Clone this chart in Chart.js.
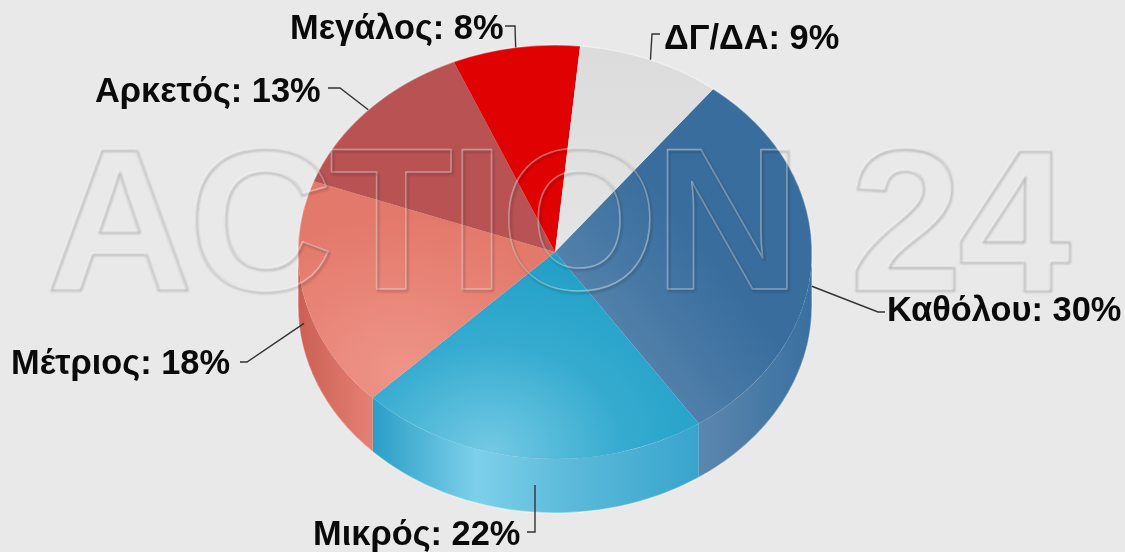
<!DOCTYPE html>
<html lang="el">
<head>
<meta charset="utf-8">
<title>Pie</title>
<script src="https://cdn.jsdelivr.net/npm/chart.js@4"></script>
<style>
  html, body { margin: 0; padding: 0; background: #e9e9e9; }
  canvas { display: block; filter: blur(0.6px); }
</style>
</head>
<body>
<canvas id="pie" width="1125" height="552"></canvas>
<script>
const categories = ['Καθόλου', 'Μικρός', 'Μέτριος', 'Αρκετός', 'Μεγάλος', 'ΔΓ/ΔΑ'];
const values = [30, 22, 18, 13, 8, 9];
const watermark = 'ACTION 24';

// pie look
const centerX = 555, centerY = 252, radius = 257;
const squash = 207 / 257;
const depth = 54;
const startAngle = 38;

// label: x, baseline y, then the elbow of the leader line
const labelPos = [
    { x: 887, y: 321, ex: 878, ey: 312, sx: 885 },
    { x: 313, y: 545, ex: 535, ey: 532, sx: 527, straight: true },
    { x: 11, y: 374, ex: 247, ey: 362, sx: 240 },
    { x: 95, y: 102, ex: 340, ey: 88, sx: 328 },
    { x: 290, y: 39, ex: 515, ey: 26, sx: 505 },
    { x: 664, y: 49, ex: 652, ey: 34, sx: 660 }
];

const canvas = document.getElementById('pie');
const g = canvas.getContext('2d');

// y is given in picture pixels, the top face is drawn squashed so undo that here
const flat = y => centerY + (y - centerY) / squash;

const linear = (x0, y0, x1, y1, stops) => {
    const grad = g.createLinearGradient(x0, flat(y0), x1, flat(y1));
    stops.forEach(([p, c]) => grad.addColorStop(p, c));
    return grad;
};
const radial = (x, y, r, stops) => {
    const grad = g.createRadialGradient(x, flat(y), 0, x, flat(y), r);
    stops.forEach(([p, c]) => grad.addColorStop(p, c));
    return grad;
};

const topColors = [
    linear(610, 340, 730, 280, [[0, '#5482ab'], [1, '#386d9e']]),
    radial(490, 450, 240, [[0, '#72c9e3'], [0.55, '#36abd0'], [1, '#22a0c8']]),
    radial(400, 370, 190, [[0, '#ee9488'], [1, '#e3796b']]),
    '#b85253',
    '#e00202',
    linear(600, 60, 600, 240, [[0, '#dcdcdc'], [1, '#e4e4e4']])
];

const wallStops = [
    [[0, '#5b87ae'], [1, '#3a70a0']],
    [[0, '#2a9ec6'], [0.32, '#7dd0ea'], [0.6, '#5cbada'], [1, '#38a4cc']],
    [[0, '#cb5f54'], [1, '#e58174']],
    [[0, '#a04848'], [1, '#a04848']],
    [[0, '#c00000'], [1, '#c00000']],
    [[0, '#cccccc'], [1, '#cccccc']]
];

const pie3d = {
    id: 'pie3d',
    beforeDatasetsDraw(chart) {
        const ctx = chart.ctx;
        const arcs = chart.getDatasetMeta(0).data;
        arcs.forEach((arc, i) => {
            const p = arc.getProps(['x', 'y', 'startAngle', 'endAngle', 'outerRadius']);
            // only the part of the slice facing the viewer, angles 0..PI on canvas
            const norm = a => ((a % (2 * Math.PI)) + 2 * Math.PI) % (2 * Math.PI);
            let a0 = norm(p.startAngle);
            let a1 = a0 + (p.endAngle - p.startAngle);
            if (a1 > 2 * Math.PI) { a0 -= 2 * Math.PI; a1 -= 2 * Math.PI; }
            a0 = Math.max(a0, 0);
            a1 = Math.min(a1, Math.PI);
            if (a1 <= a0) return;
            const ry = p.outerRadius * squash;
            const x0 = p.x + p.outerRadius * Math.cos(a0);
            const x1 = p.x + p.outerRadius * Math.cos(a1);
            const grad = ctx.createLinearGradient(Math.min(x0, x1), 0, Math.max(x0, x1), 0);
            wallStops[i].forEach(([s, c]) => grad.addColorStop(s, c));
            ctx.beginPath();
            ctx.ellipse(p.x, p.y, p.outerRadius, ry, 0, a0, a1);
            ctx.ellipse(p.x, p.y + depth, p.outerRadius, ry, 0, a1, a0, true);
            ctx.closePath();
            ctx.fillStyle = grad;
            ctx.fill();
        });
        ctx.save();
        ctx.translate(centerX, centerY);
        ctx.scale(1, squash);
        ctx.translate(-centerX, -centerY);
    },
    afterDatasetsDraw(chart) {
        const ctx = chart.ctx;
        ctx.restore();
        const arcs = chart.getDatasetMeta(0).data;

        // pale rim round the whole pie
        ctx.save();
        ctx.strokeStyle = 'rgba(255,255,255,0.4)';
        ctx.lineWidth = 1.5;
        ctx.beginPath();
        ctx.ellipse(centerX, centerY, radius, radius * squash, 0, Math.PI, 2 * Math.PI);
        ctx.ellipse(centerX, centerY + depth, radius, radius * squash, 0, 0, Math.PI);
        ctx.closePath();
        ctx.stroke();
        ctx.restore();

        // watermark, embossed outline
        ctx.save();
        ctx.font = 'bold 203px "Liberation Sans"';
        ctx.letterSpacing = '-4.5px';
        ctx.textBaseline = 'alphabetic';
        ctx.lineJoin = 'round';
        ctx.lineWidth = 1.6;
        ctx.strokeStyle = 'rgba(255,255,255,0.4)';
        ctx.strokeText(watermark, 45, 289);
        ctx.filter = 'blur(0.8px)';
        ctx.strokeStyle = 'rgba(30,30,30,0.3)';
        ctx.strokeText(watermark, 46.5, 290.5);
        ctx.restore();

        // leader lines and labels
        ctx.save();
        ctx.fillStyle = '#0a0a0a';
        ctx.strokeStyle = '#333333';
        ctx.lineWidth = 1.4;
        ctx.font = 'bold 34.4px "Liberation Sans"';
        ctx.textBaseline = 'alphabetic';
        arcs.forEach((arc, i) => {
            const p = arc.getProps(['x', 'y', 'startAngle', 'endAngle', 'outerRadius']);
            const mid = (p.startAngle + p.endAngle) / 2;
            const pos = labelPos[i];
            const ax = pos.straight ? pos.ex : p.x + p.outerRadius * Math.cos(mid);
            let ay = p.y + p.outerRadius * squash * Math.sin(mid);
            if (Math.sin(mid) > 0) ay += depth / 2;
            ctx.beginPath();
            ctx.moveTo(ax, ay);
            ctx.lineTo(pos.ex, pos.ey);
            ctx.lineTo(pos.sx, pos.ey);
            ctx.stroke();
            ctx.fillText(categories[i] + ': ' + values[i] + '%', pos.x, pos.y);
        });
        ctx.restore();
    }
};

const chart = new Chart(canvas, {
    type: 'pie',
    data: {
        labels: categories,
        datasets: [{
            data: values,
            backgroundColor: topColors,
            borderWidth: 0,
            clip: false
        }]
    },
    options: {
        responsive: false,
        animation: false,
        radius: radius,
        rotation: startAngle,
        layout: { padding: { left: 0, top: 0, right: 15, bottom: 48 } },
        plugins: {
            legend: { display: false },
            tooltip: { enabled: false }
        }
    },
    plugins: [pie3d]
});
</script>
</body>
</html>
